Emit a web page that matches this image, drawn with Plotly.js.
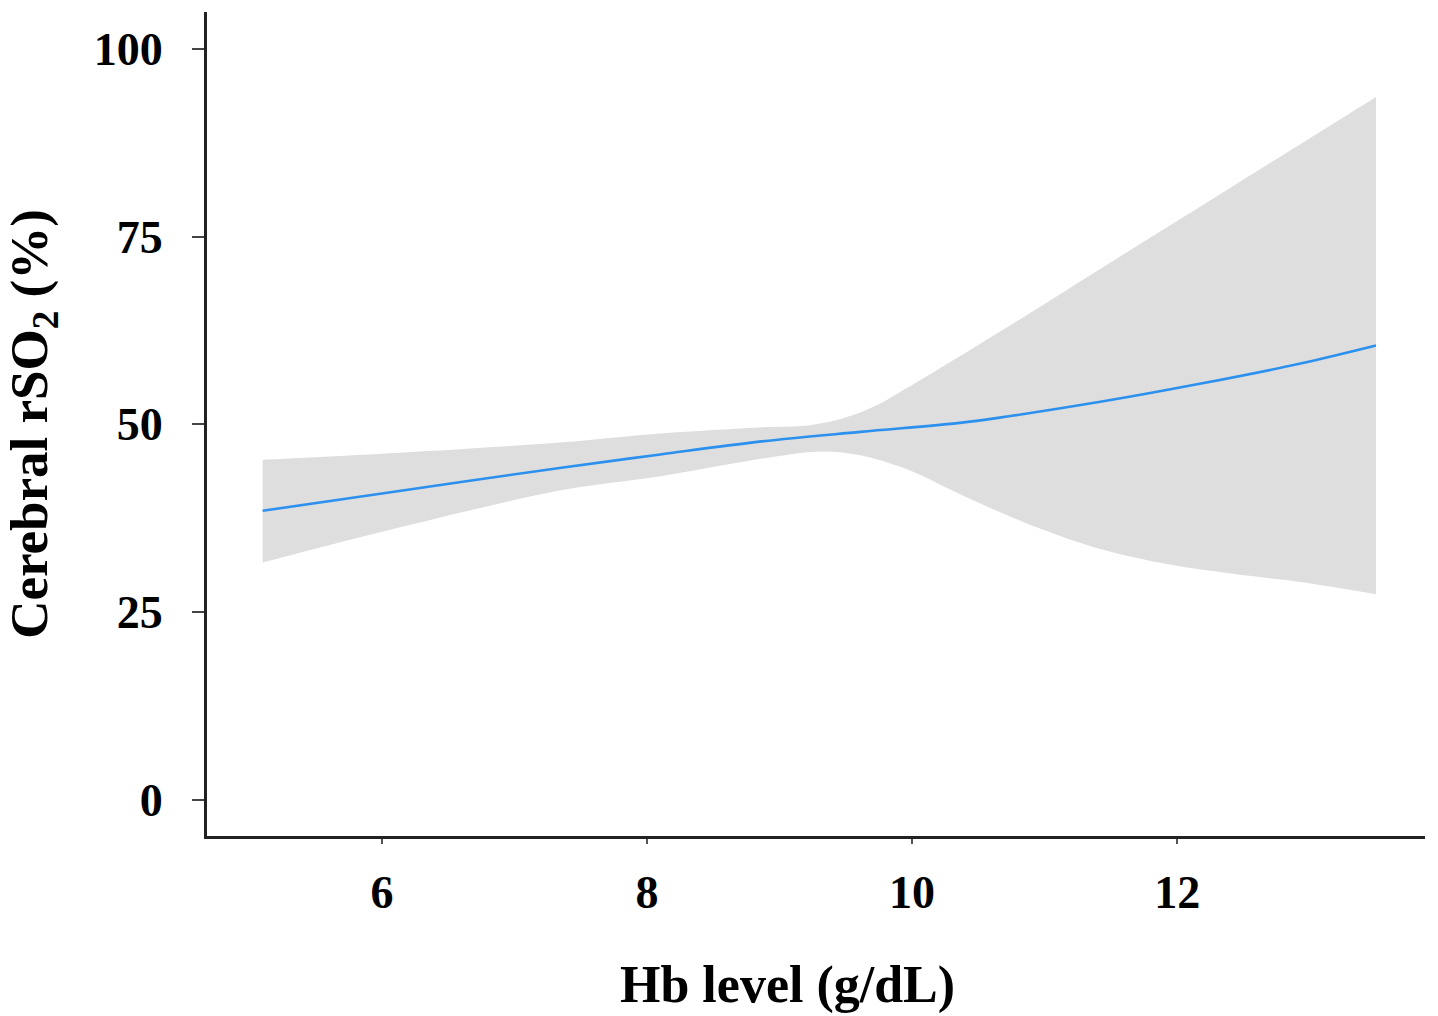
<!DOCTYPE html>
<html>
<head>
<meta charset="utf-8">
<script src="https://cdn.plot.ly/plotly-3.0.1.min.js"></script>
<style>html,body{margin:0;padding:0;background:#fff;}#chart{width:1438px;height:1016px;}</style>
</head>
<body>
<div id="chart"></div>
<script>
// Fitted curve (Hb level vs cerebral rSO2)
const hbLine   = [5.1, 6.0, 7.34, 8.1, 8.85, 9.61, 10.36, 10.66, 11.42, 12.17, 12.93, 13.5];
const rso2Line = [38.5, 40.8, 44.2, 46.0, 47.7, 49.0, 50.2, 50.9, 53.0, 55.4, 58.1, 60.5];

// Upper confidence bound
const hbUpper   = [5.1, 6.0, 7.34, 8.1, 8.85, 9.23, 9.48, 9.73, 9.91, 10.53, 11.42, 12.42, 13.5];
const rso2Upper = [45.3, 46.1, 47.6, 48.8, 49.6, 49.9, 50.8, 52.5, 54.3, 60.9, 70.7, 81.7, 93.6];

// Lower confidence bound
const hbLower   = [5.1, 6.0, 7.34, 8.1, 8.85, 9.31, 9.61, 9.98, 10.41, 10.91, 11.42, 11.92, 12.42, 12.93, 13.5];
const rso2Lower = [31.6, 35.7, 41.2, 43.1, 45.4, 46.4, 45.9, 43.9, 40.3, 36.5, 33.4, 31.4, 30.1, 29.0, 27.4];

// Tick labels
const xTicks = [6, 8, 10, 12];
const yTicks = [0, 25, 50, 75, 100];

// Axis titles
const xTitle = '<b>Hb level (g/dL)</b>';
const yTitle = '<b>Cerebral rSO<sub>2</sub> (%)</b>';

const FONT = '"Liberation Serif", "Times New Roman", Times, serif';

const traces = [
  {x: hbUpper, y: rso2Upper, mode: 'lines', line: {width: 0, shape: 'spline', smoothing: 1}, hoverinfo: 'skip', showlegend: false},
  {x: hbLower, y: rso2Lower, mode: 'lines', line: {width: 0, shape: 'spline', smoothing: 0.9}, fill: 'tonexty', fillcolor: '#dedede', hoverinfo: 'skip', showlegend: false},
  {x: hbLine, y: rso2Line, mode: 'lines', line: {color: '#2b90ee', width: 2.6, shape: 'spline', smoothing: 1}, showlegend: false}
];

const layout = {
  width: 1438, height: 1016,
  margin: {l: 207, r: 13, t: 12, b: 180},
  paper_bgcolor: '#ffffff', plot_bgcolor: '#ffffff',
  font: {family: FONT, color: '#000'},
  xaxis: {
    range: [4.68, 13.87],
    tickvals: xTicks, ticktext: xTicks.map(String),
    showgrid: false, zeroline: false,
    showline: true, linecolor: '#222', linewidth: 3,
    ticks: 'outside', ticklen: 5, tickwidth: 2, tickcolor: '#555',
    ticklabelstandoff: 9,
    tickfont: {family: FONT, size: 46, color: '#000', weight: 'bold'}
  },
  yaxis: {
    range: [-4.8, 104.9],
    tickvals: yTicks, ticktext: yTicks.map(String),
    showgrid: false, zeroline: false,
    showline: true, linecolor: '#222', linewidth: 3,
    ticks: 'outside', ticklen: 12, tickwidth: 2, tickcolor: '#444',
    ticklabelstandoff: 20,
    tickfont: {family: FONT, size: 46, color: '#000', weight: 'bold'},
    title: {text: yTitle, font: {family: FONT, size: 53, color: '#000'}, standoff: 107}
  },
  annotations: [
    {text: xTitle, xref: 'paper', yref: 'paper', x: 0.4766, y: -0.181,
     xanchor: 'center', yanchor: 'middle', showarrow: false,
     font: {family: FONT, size: 52, color: '#000'}}
  ]
};

Plotly.newPlot('chart', traces, layout, {displayModeBar: false, staticPlot: true});
</script>
</body>
</html>
